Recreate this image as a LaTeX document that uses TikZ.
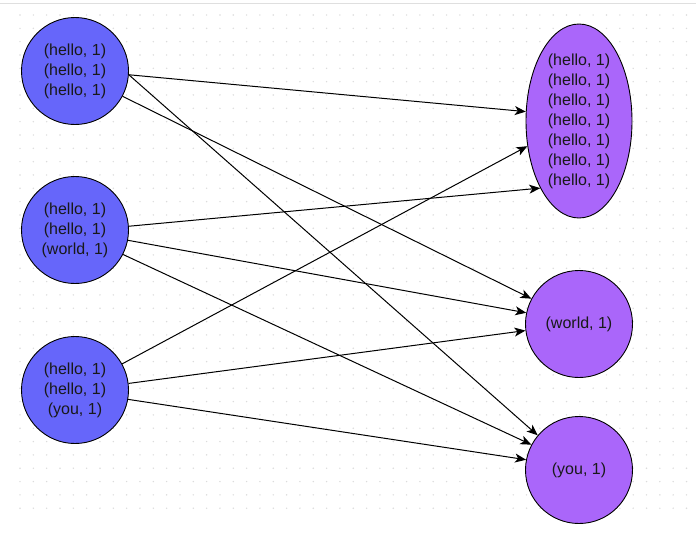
\documentclass[tikz,border=0pt]{standalone}
\usepackage{fontspec}
\setmainfont{Liberation Sans}
\usetikzlibrary{arrows.meta,shapes.geometric}
\definecolor{nodeblue}{RGB}{102,102,250}
\definecolor{nodepurple}{RGB}{170,102,250}
\definecolor{txtc}{RGB}{25,25,25}
\definecolor{dotc}{RGB}{220,220,220}
\begin{document}
\begin{tikzpicture}[x=1pt,y=-1pt,
  lnode/.style={circle, draw=black, fill=nodeblue, minimum size=107pt, inner sep=0pt,
    align=center, font=\fontsize{16}{20}\selectfont, text=txtc, line width=0.9pt},
  rnode/.style={circle, draw=black, fill=nodepurple, minimum size=107pt, inner sep=0pt,
    align=center, font=\fontsize{16}{20}\selectfont, text=txtc, line width=0.9pt},
  rell/.style={ellipse, draw=black, fill=nodepurple, minimum width=106pt, minimum height=194pt,
    inner sep=0pt, align=center, font=\fontsize{16}{20}\selectfont, text=txtc, line width=0.9pt},
  edge/.style={line width=1pt, draw=black, -{Stealth[length=11pt,width=9pt,inset=3pt]}}]
\useasboundingbox (0,0) rectangle (696,533);
\fill[white] (0,0) rectangle (696,533);
\draw[gray!25, line width=1pt] (0,3) -- (696,3);
\foreach \i in {0,...,51}{
  \foreach \j in {0,...,37}{
    \fill[dotc] (20+\i*13.33, 15+\j*13.33) circle (0.8pt);
  }
}
\node[lnode] (c1) at (75,71) {(hello, 1)\\(hello, 1)\\(hello, 1)};
\node[lnode] (c2) at (75,230) {(hello, 1)\\(hello, 1)\\(world, 1)};
\node[lnode] (c3) at (75,390) {(hello, 1)\\(hello, 1)\\(you, 1)};
\node[rell] (e) at (579,121) {(hello, 1)\\(hello, 1)\\(hello, 1)\\(hello, 1)\\(hello, 1)\\(hello, 1)\\(hello, 1)};
\node[rnode] (w) at (579,324) {(world, 1)};
\node[rnode] (y) at (579,470) {(you, 1)};
\draw[edge] (c1.-4) -- (e.170);
\draw[edge] (c1.-28) -- (w.152);
\draw[edge] (c1.-4) -- (y.140);
\draw[edge] (c2.4) -- (e.240);
\draw[edge] (c2.-11) -- (w.168);
\draw[edge] (c2.-27) -- (y.152);
\draw[edge] (c3.29) -- (e.206);
\draw[edge] (c3.7) -- (w.187);
\draw[edge] (c3.-10) -- (y.169);
\end{tikzpicture}
\end{document}
